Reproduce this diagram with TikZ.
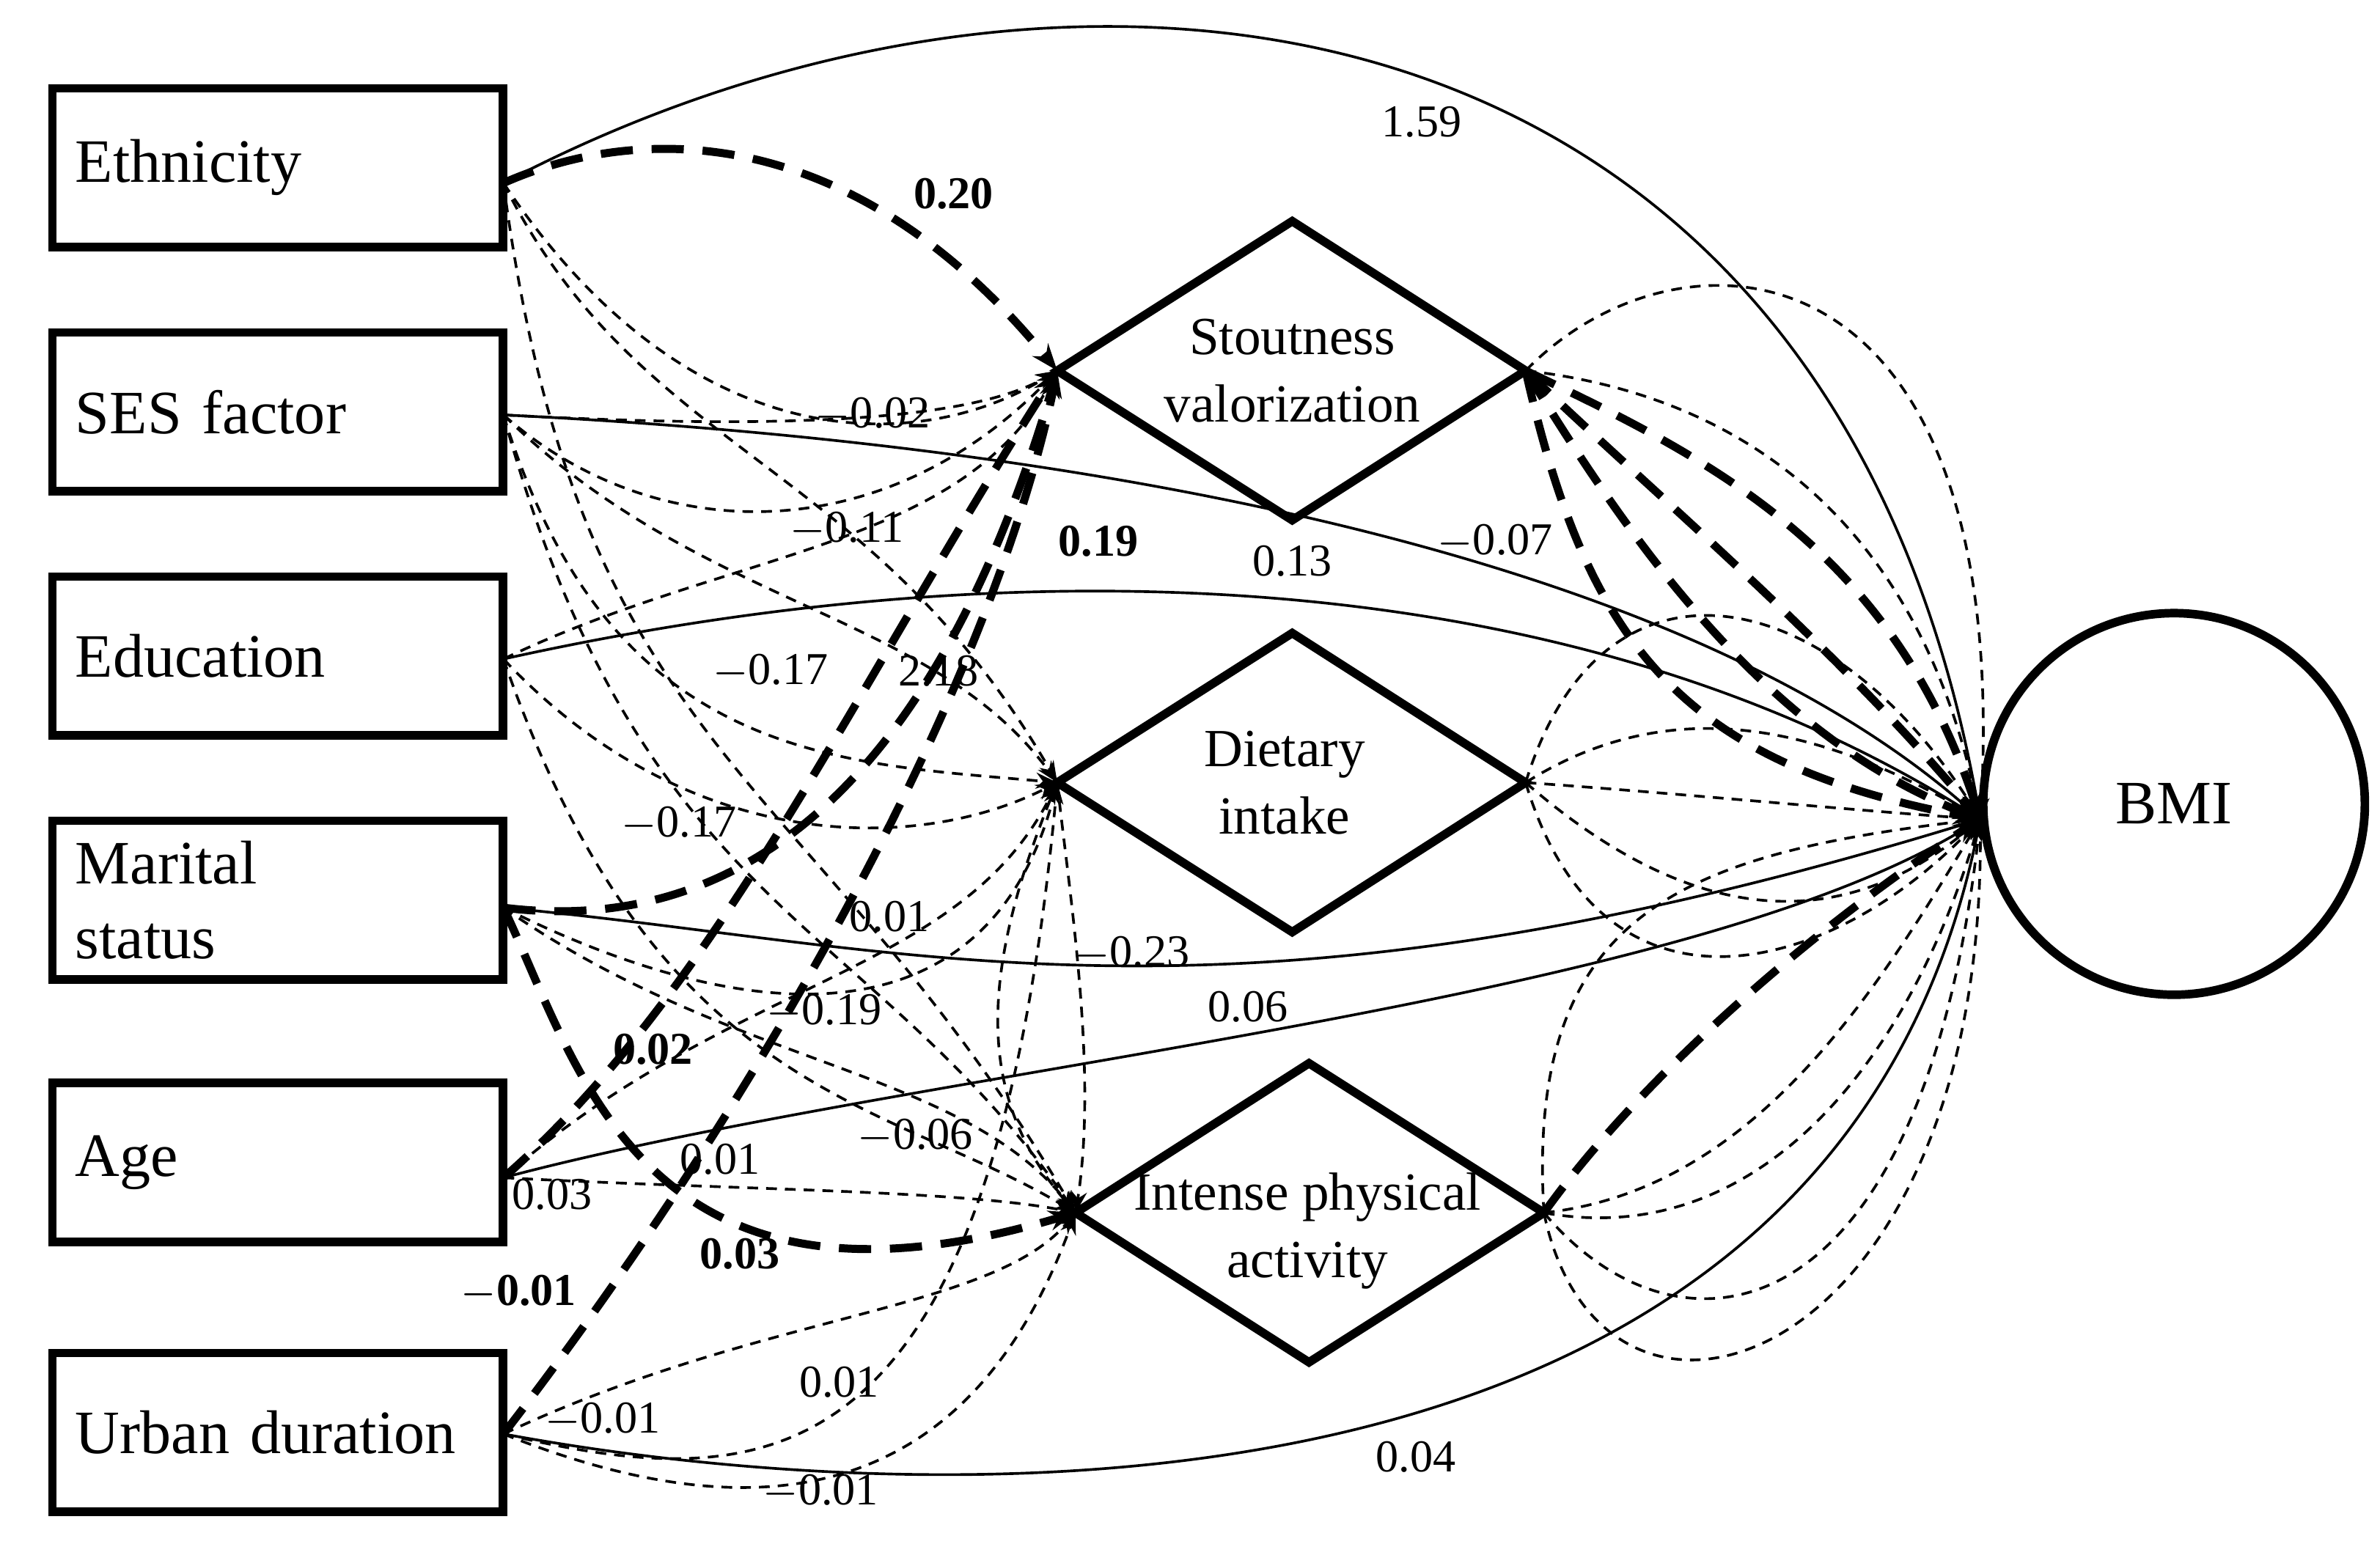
\documentclass[tikz,border=0pt]{standalone}
\usepackage{fontspec}
\setmainfont{Liberation Serif}
\usetikzlibrary{shapes.geometric,arrows.meta}
\begin{document}
\begin{tikzpicture}[x=0.01cm,y=-0.01cm,
 box/.style={draw,line width=1.6pt,minimum width=2.95cm,minimum height=1.04cm,font=\fontsize{11.5}{14}\selectfont,align=left,text width=2.65cm,inner sep=0pt},
 dtxt/.style={font=\fontsize{10}{12.5}\selectfont,align=center,inner sep=0pt},
 dline/.style={line width=1.6pt,line join=miter},
 lab/.style={font=\fontsize{8.5}{10}\selectfont,inner sep=0pt},
 blab/.style={lab,font=\fontsize{8.5}{10}\bfseries},
 sol/.style={line width=0.5pt,-{Stealth[length=4pt]}},
 td/.style={dashed,dash pattern=on 2pt off 1.5pt,line width=0.5pt,-{Stealth[length=4pt]}},
 bd/.style={dash pattern=on 6pt off 3.5pt,line width=1.5pt,-{Stealth[length=5pt]}}]
\useasboundingbox (0,0) rectangle (1560,1019);
\node[box] (eth) at (182,110) {Ethnicity};
\node[box] (ses) at (182,270) {SES factor};
\node[box] (edu) at (182,430) {Education};
\node[box] (mar) at (182,590) {Marital\\status};
\node[box] (age) at (182,762) {Age};
\node[box] (urb) at (182,939) {Urban duration};
% diamonds
\coordinate (sw) at (693,243); \coordinate (se) at (1000,243);
\coordinate (dw) at (693,513); \coordinate (de) at (1000,513);
\coordinate (iw) at (705,795); \coordinate (ie) at (1012,795);
\draw[dline] (sw) -- (847,145) -- (se) -- (847,341) -- cycle;
\draw[dline] (dw) -- (847,415) -- (de) -- (847,611) -- cycle;
\draw[dline] (iw) -- (858,697) -- (ie) -- (858,893) -- cycle;
\node[dtxt] (sto) at (847,243) {Stoutness\\valorization};
\node[dtxt] (die) at (842,513) {Dietary\\intake};
\node[dtxt] (ipa) at (857,807) {Intense physical\\activity};
\node[draw,circle,line width=1.6pt,minimum size=2.5cm,font=\fontsize{11.5}{14}\selectfont] (bmi) at (1425,527) {BMI};
\coordinate (B) at (1298,537);
\coordinate (e) at (330,120); \coordinate (s) at (330,272); \coordinate (d) at (330,432);
\coordinate (m) at (330,595); \coordinate (a) at (330,772); \coordinate (u) at (330,940);
% solid direct effects
\draw[sol] (e) .. controls (700,-75) and (1200,-20) .. (B);
\draw[sol] (s) .. controls (700,290) and (1100,360) .. (B);
\draw[sol] (d) .. controls (700,350) and (1050,380) .. (B);
\draw[sol] (m) .. controls (600,620) and (800,690) .. (B);
\draw[sol] (a) .. controls (600,700) and (1100,660) .. (B);
\draw[sol] (u) .. controls (600,990) and (1200,1020) .. (B);
% bold dashed
\draw[bd] (e) .. controls (420,80) and (560,80) .. (sw);
\draw[bd] (m) .. controls (450,610) and (600,560) .. (sw);
\draw[bd] (a) .. controls (470,650) and (560,450) .. (sw);
\draw[bd] (u) .. controls (500,720) and (650,450) .. (sw);
\draw[bd] (m) .. controls (380,700) and (420,880) .. (iw);
\draw[bd] (se) .. controls (1040,420) and (1100,500) .. (B);
\draw[bd] (se) .. controls (1060,340) and (1150,480) .. (B);
\draw[bd] (se) .. controls (1080,320) and (1200,420) .. (B);
\draw[bd] (se) .. controls (1120,300) and (1240,360) .. (B);
\draw[bd] (ie) .. controls (1080,700) and (1200,600) .. (B);
% thin dashed: predictors -> mediators
\foreach \p/\q/\c/\d in {e/sw/450/300, e/dw/420/300, e/iw/380/500,
  s/sw/480/280, s/sw/430/360, s/dw/460/400, s/dw/400/500, s/iw/420/600,
  d/sw/480/360, d/dw/450/560, d/iw/430/720,
  m/dw/500/680, m/iw/480/700,
  a/iw/480/780, a/dw/480/640,
  u/iw/500/860, u/iw/480/1000, u/dw/500/980}
  \draw[td] (\p) .. controls (\c,\d) and (\c+150,\d) .. (\q);
% mediators -> mediators
\draw[td] (dw) .. controls (640,640) and (640,720) .. (iw);
\draw[td] (dw) .. controls (700,580) and (720,700) .. (iw);
% thin dashed mediators -> BMI
\draw[td] (se) .. controls (1100,140) and (1320,150) .. (B);
\draw[td] (se) .. controls (1150,260) and (1260,350) .. (B);
\draw[td] (de) .. controls (1050,350) and (1200,380) .. (B);
\draw[td] (de) .. controls (1100,450) and (1200,480) .. (B);
\draw[td] (de) .. controls (1100,520) and (1200,530) .. (B);
\draw[td] (de) .. controls (1100,600) and (1200,620) .. (B);
\draw[td] (de) .. controls (1050,680) and (1200,640) .. (B);
\draw[td] (ie) .. controls (1000,600) and (1100,560) .. (B);
\draw[td] (ie) .. controls (1150,780) and (1230,650) .. (B);
\draw[td] (ie) .. controls (1150,820) and (1250,700) .. (B);
\draw[td] (ie) .. controls (1100,900) and (1260,880) .. (B);
\draw[td] (ie) .. controls (1050,980) and (1300,900) .. (B);
% labels
\node[lab] at (932,80) {1.59};
\node[blab] at (625,127) {0.20};
\node[lab] at (572,272) {$-$0.02};
\node[lab] at (555,347) {$-$0.11};
\node[blab] at (720,355) {0.19};
\node[lab] at (847,368) {0.13};
\node[lab] at (980,355) {$-$0.07};
\node[lab] at (505,440) {$-$0.17};
\node[lab] at (615,440) {2.18};
\node[lab] at (445,540) {$-$0.17};
\node[lab] at (583,601) {0.01};
\node[lab] at (742,625) {$-$0.23};
\node[lab] at (540,663) {$-$0.19};
\node[lab] at (818,660) {0.06};
\node[blab] at (428,688) {0.02};
\node[lab] at (600,745) {$-$0.06};
\node[lab] at (472,760) {0.01};
\node[lab] at (362,783) {0.03};
\node[blab] at (485,822) {0.03};
\node[blab] at (340,847) {$-$0.01};
\node[lab] at (550,906) {0.01};
\node[lab] at (395,931) {$-$0.01};
\node[lab] at (928,955) {0.04};
\node[lab] at (538,978) {$-$0.01};
\end{tikzpicture}
\end{document}
